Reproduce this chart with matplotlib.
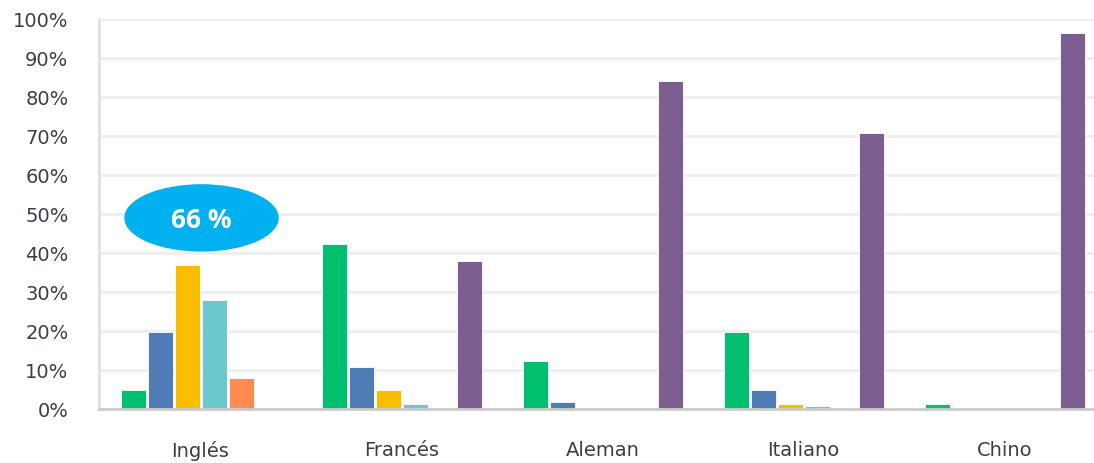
import matplotlib.pyplot as plt
from matplotlib.patches import Ellipse
import numpy as np

idiomas = ["Inglés", "Francés", "Aleman", "Italiano", "Chino"]
serie_verde = [5, 42.3, 12.3, 19.7, 1.2]
serie_azul = [19.7, 10.7, 1.7, 5, 0]
serie_amarilla = [37, 5, 0, 1.2, 0]
serie_turquesa = [28, 1.2, 0, 0.7, 0]
serie_naranja = [8, 0, 0, 0, 0]
serie_morada = [0, 38, 84, 70.7, 96.5]
etiqueta_globo = "66 %"

series = [serie_verde, serie_azul, serie_amarilla, serie_turquesa, serie_naranja, serie_morada]
colores = ["#00bf6f", "#507cb6", "#f9be00", "#6bc8cd", "#ff8b4f", "#7d5e90"]

plt.rcParams['font.family'] = ['DejaVu Sans']

fig = plt.figure(figsize=(10.94, 4.64), dpi=100)
ax = fig.add_axes([99/1094, 54/464, 995/1094, 390/464])

x = np.arange(len(idiomas))
paso = 27/201
ancho = 25/201
for i, (vals, col) in enumerate(zip(series, colores)):
    ax.bar(x + (i - 2.5)*paso, vals, width=ancho, color=col,
           edgecolor="white", linewidth=0.6, zorder=3)

ax.set_xlim(-0.505, 4.445)
ax.set_ylim(0, 100)
ax.set_yticks(range(0, 101, 10))
ax.set_yticklabels([f"{v}%" for v in range(0, 101, 10)])
ax.set_xticks(x)
ax.set_xticklabels(idiomas)
ax.tick_params(axis='both', length=0, labelsize=14, colors="#3a3f45")
ax.tick_params(axis='x', pad=22)
ax.tick_params(axis='y', pad=22)

ax.grid(axis='y', color="#eeeeee", linewidth=2, zorder=0)
for s in ["top", "right"]:
    ax.spines[s].set_visible(False)
ax.spines["left"].set_color("#e0e0e0")
ax.spines["left"].set_linewidth(2)
ax.spines["bottom"].set_color("#cccccc")
ax.spines["bottom"].set_linewidth(2)
ax.spines["bottom"].set_zorder(4)

# globo con el total de inglés
globo = Ellipse((0.005, 49), width=153/201, height=66/3.9, color="#00b0f0",
                zorder=5, clip_on=False)
ax.add_patch(globo)
ax.text(0.005, 48.6, etiqueta_globo, ha="center", va="center", color="white",
        fontsize=19, fontweight="bold", family=["Open Sans", "DejaVu Sans"], zorder=6)

fig.savefig("out.png", dpi=100)
